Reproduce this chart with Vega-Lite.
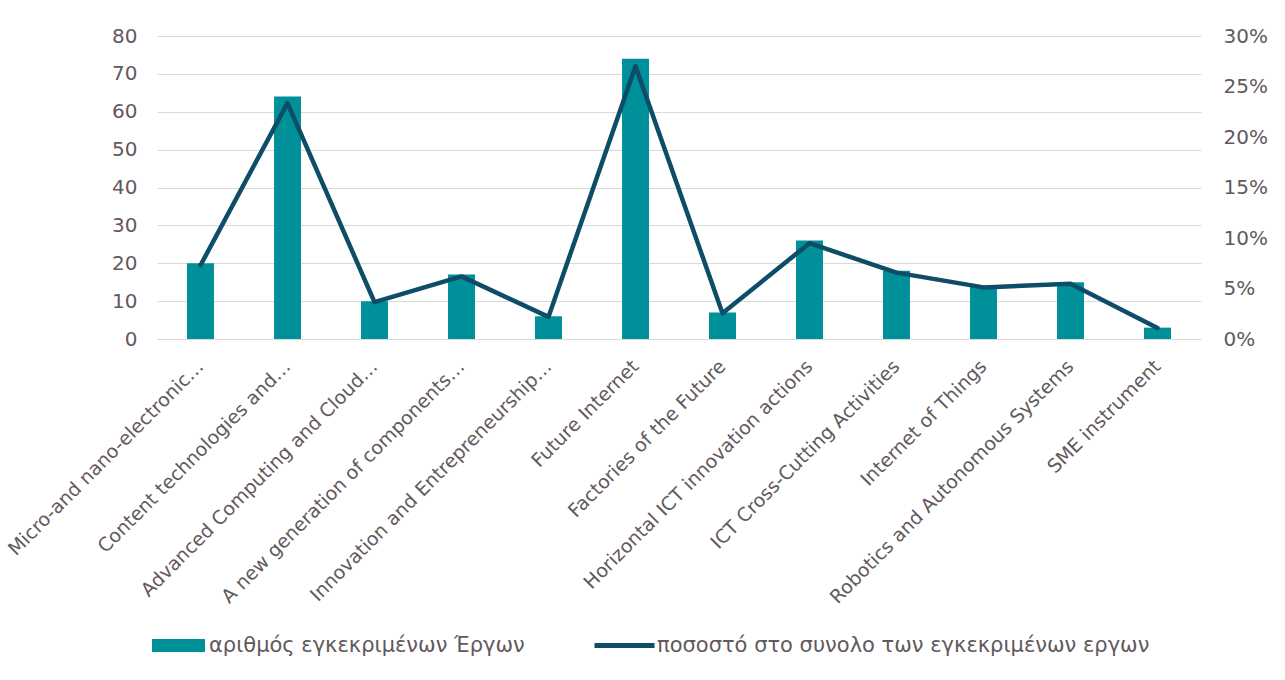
{
  "$schema": "https://vega.github.io/schema/vega-lite/v6.json",
  "autosize": "none",
  "width": 1044,
  "height": 303,
  "padding": {"left": 157, "top": 36, "right": 84, "bottom": 341},
  "background": "white",
  "config": {
    "font": "DejaVu Sans",
    "view": {"stroke": null},
    "axis": {"labelColor": "#62595d", "labelFont": "DejaVu Sans", "ticks": false, "titleColor": "#62595d"},
    "legend": {"labelColor": "#62595d", "labelFont": "DejaVu Sans", "labelFontSize": 21, "labelLimit": 800}
  },
  "data": {
    "values": [
      {"cat": "Micro-and nano-electronic…", "n": 20, "pct": 0.0730},
      {"cat": "Content technologies and…", "n": 64, "pct": 0.2336},
      {"cat": "Advanced Computing and Cloud…", "n": 10, "pct": 0.0365},
      {"cat": "A new generation of components…", "n": 17, "pct": 0.0620},
      {"cat": "Innovation and Entrepreneurship…", "n": 6, "pct": 0.0219},
      {"cat": "Future Internet", "n": 74, "pct": 0.2701},
      {"cat": "Factories of the Future", "n": 7, "pct": 0.0255},
      {"cat": "Horizontal ICT innovation actions", "n": 26, "pct": 0.0949},
      {"cat": "ICT Cross-Cutting Activities", "n": 18, "pct": 0.0657},
      {"cat": "Internet of Things", "n": 14, "pct": 0.0511},
      {"cat": "Robotics and Autonomous Systems", "n": 15, "pct": 0.0547},
      {"cat": "SME instrument", "n": 3, "pct": 0.0109}
    ]
  },
  "encoding": {
    "x": {
      "field": "cat", "type": "nominal", "sort": null,
      "scale": {"paddingInner": 0.69, "paddingOuter": 0.345},
      "axis": {"title": null, "labelAngle": -45, "labelFontSize": 19, "labelLimit": 500, "labelPadding": 24, "labelBaseline": "middle", "labelAlign": "right", "domain": true, "domainColor": "#d9d9d9", "grid": false}
    }
  },
  "layer": [
    {
      "mark": {"type": "bar", "color": "#00909a"},
      "encoding": {
        "y": {"field": "n", "type": "quantitative", "scale": {"domain": [0, 80]},
          "axis": {"title": null, "values": [0,10,20,30,40,50,60,70,80], "labelFontSize": 20, "labelPadding": 20, "domain": false, "grid": true, "gridColor": "#d9d9d9", "gridWidth": 1}},
        "fill": {"datum": "αριθμός εγκεκριμένων Έργων", "type": "nominal",
          "scale": {"range": ["#00909a"]},
          "legend": {"title": null, "orient": "none", "legendX": -5, "legendY": 583, "padding": 0,
            "symbolType": "M-1,-0.245L1,-0.245L1,0.245L-1,0.245Z", "symbolSize": 2809, "symbolStrokeWidth": 0, "labelOffset": 4}}
      }
    },
    {
      "mark": {"type": "line", "color": "#0e4d68", "strokeWidth": 4.5, "strokeJoin": "round", "strokeCap": "round"},
      "encoding": {
        "y": {"field": "pct", "type": "quantitative", "scale": {"domain": [0, 0.3]},
          "axis": {"title": null, "orient": "right", "format": ".0%", "values": [0,0.05,0.1,0.15,0.2,0.25,0.3], "labelFontSize": 20, "labelPadding": 22, "domain": false, "grid": false}},
        "stroke": {"datum": "ποσοστό στο συνολο των εγκεκριμένων εργων", "type": "nominal",
          "scale": {"range": ["#0e4d68"]},
          "legend": {"title": null, "orient": "none", "legendX": 435, "legendY": 577, "padding": 0,
            "symbolType": "stroke", "symbolSize": 3600, "symbolStrokeWidth": 5, "labelOffset": 0}}
      }
    }
  ],
  "resolve": {"scale": {"y": "independent"}}
}
